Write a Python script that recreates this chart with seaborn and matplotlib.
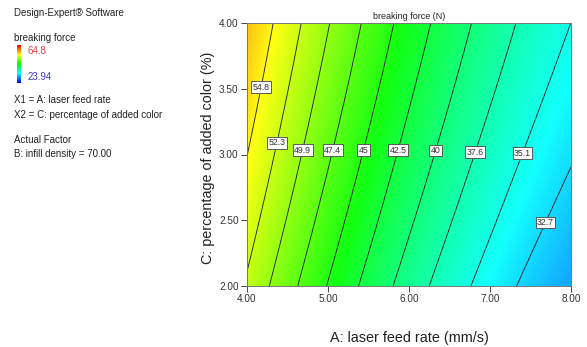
import numpy as np
import matplotlib
matplotlib.use("Agg")
import matplotlib.pyplot as plt
from matplotlib.colors import LinearSegmentedColormap
import seaborn as sns

# Response-surface model for breaking force (N), infill density fixed at 70 %
# terms: 1, A, C, A*C, A^2, C^2
model_terms = ["1", "A", "C", "AC", "A2", "C2"]
model_coefs = [83.73274, -11.94590, 4.28223, -0.06279, 0.55476, -0.23127]

feed_rate_range = [4.0, 8.0]        # A: laser feed rate (mm/s)
color_pct_range = [2.0, 4.0]        # C: percentage of added color (%)
response_min, response_max = 23.94, 64.8

contour_levels = [32.7, 35.1, 37.6, 40, 42.5, 45, 47.4, 49.9, 52.3, 54.8]
label_positions = [(7.66, 2.49), (7.37, 3.016), (6.806, 3.02), (6.30, 3.035),
                   (5.85, 3.035), (5.428, 3.035), (5.045, 3.035), (4.675, 3.035),
                   (4.367, 3.09), (4.18, 3.51)]
x_ticks = [4.00, 5.00, 6.00, 7.00, 8.00]
y_ticks = [2.00, 2.50, 3.00, 3.50, 4.00]


def breaking_force(a, c):
    b0, bA, bC, bAC, bA2, bC2 = model_coefs
    return b0 + bA * a + bC * c + bAC * a * c + bA2 * a ** 2 + bC2 * c ** 2


sns.set_style("white")
plt.rcParams["font.family"] = ["Liberation Sans", "DejaVu Sans"]

de_cmap = LinearSegmentedColormap.from_list(
    "design_expert",
    [(0.0, "#0000ff"), (0.25, "#00ffff"), (0.5, "#00ff00"),
     (0.75, "#ffff00"), (1.0, "#ff0000")])

W, H = 587, 347
fig = plt.figure(figsize=(W / 100, H / 100), dpi=100)
ax = fig.add_axes([247 / W, 1 - 286 / H, 324 / W, 263 / H])

a = np.linspace(*feed_rate_range, 400)
c = np.linspace(*color_pct_range, 400)
AA, CC = np.meshgrid(a, c)
Z = breaking_force(AA, CC)

ax.imshow(Z, origin="lower", aspect="auto", cmap=de_cmap,
          vmin=response_min, vmax=response_max,
          extent=[*feed_rate_range, *color_pct_range],
          interpolation="bilinear", alpha=0.93)
cs = ax.contour(AA, CC, Z, levels=contour_levels, colors="#262626",
                linewidths=0.65)
labels = ax.clabel(cs, inline=False, fontsize=6.3, manual=label_positions,
                   fmt=lambda v: f"{v:g}")
for t in labels:
    t.set_rotation(0)
    t.set_color("#333333")
    t.set_bbox(dict(facecolor="white", edgecolor="#444444", linewidth=0.6,
                    pad=1.0))

ax.set_xlim(*feed_rate_range)
ax.set_ylim(*color_pct_range)
ax.set_xticks(x_ticks)
ax.set_yticks(y_ticks)
ax.set_xticklabels([f"{v:.2f}" for v in x_ticks])
ax.set_yticklabels([f"{v:.2f}" for v in y_ticks])
ax.tick_params(axis="both", direction="out", length=4, width=0.7,
               color="#444444", labelsize=7.2, labelcolor="#333333", pad=2,
               bottom=True, left=True)
for s in ax.spines.values():
    s.set_color("#777777")
    s.set_linewidth(0.7)

ax.set_title("breaking force (N)", fontsize=6.5, color="#222222", pad=3)
ax.set_xlabel("A: laser feed rate (mm/s)", fontsize=10.4, color="#222222")
ax.set_ylabel("C: percentage of added color (%)", fontsize=10.4,
              color="#222222")
ax.xaxis.set_label_coords(0.5, (286 - 331) / 263)
ax.yaxis.set_label_coords((215 - 247) / 324, (286 - 158) / 263)

# Side panel: software note, legend color bar and factor descriptions
def ftext(px, py, s, **kw):
    fig.text(px / W, 1 - py / H, s, va="center", ha="left",
             fontsize=kw.pop("fontsize", 7), color=kw.pop("color", "#222222"),
             **kw)

ftext(14, 13, "Design-Expert® Software")
ftext(14, 38, "breaking force")
ftext(28, 51, f"{response_max:g}", color="#e04040")
ftext(28, 77, f"{response_min:g}", color="#3a3ad0")
ftext(14, 100, "X1 = A: laser feed rate")
ftext(14, 115, "X2 = C: percentage of added color")
ftext(14, 140, "Actual Factor")
ftext(14, 154, "B: infill density = 70.00")

cax = fig.add_axes([17 / W, 1 - 83 / H, 4 / W, 38 / H])
gradient = np.linspace(response_max, response_min, 60).reshape(-1, 1)
sns.heatmap(gradient, ax=cax, cmap=de_cmap, vmin=response_min,
            vmax=response_max, cbar=False, xticklabels=False,
            yticklabels=False)

fig.savefig("out.png", dpi=100)
